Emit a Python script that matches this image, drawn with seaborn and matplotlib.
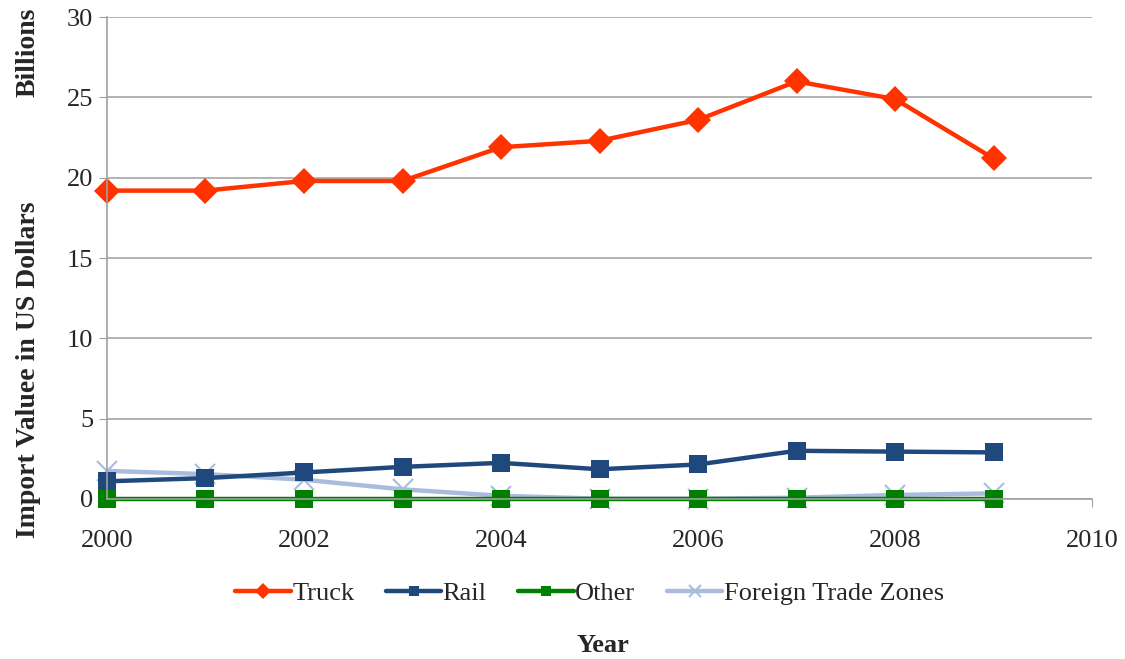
import numpy as np
import pandas as pd
import matplotlib
matplotlib.use("Agg")
import matplotlib.pyplot as plt
import seaborn as sns

years = [2000, 2001, 2002, 2003, 2004, 2005, 2006, 2007, 2008, 2009]
truck = [19.2, 19.2, 19.8, 19.8, 21.9, 22.3, 23.6, 26.0, 24.9, 21.2]
rail = [1.1, 1.3, 1.65, 2.0, 2.25, 1.85, 2.15, 3.0, 2.95, 2.9]
other = [0.0, 0.0, 0.0, 0.0, 0.0, 0.0, 0.0, 0.0, 0.0, 0.0]
ftz = [1.75, 1.55, 1.2, 0.6, 0.2, 0.02, 0.02, 0.08, 0.25, 0.35]

series_names = ["Truck", "Rail", "Other", "Foreign Trade Zones"]
series_values = [truck, rail, other, ftz]
colors = {"Truck": "#FF3300", "Rail": "#1F497D", "Other": "#008000",
          "Foreign Trade Zones": "#A9BCDD"}
markers = {"Truck": "D", "Rail": "s", "Other": "s", "Foreign Trade Zones": "x"}
msizes = {"Truck": 13, "Rail": 13, "Other": 13, "Foreign Trade Zones": 14}

df = pd.DataFrame({
    "Year": np.tile(years, len(series_names)),
    "Value": np.concatenate(series_values),
    "Series": np.repeat(series_names, len(years)),
})

sns.set_style("white")
plt.rcParams["font.family"] = ["Liberation Serif", "DejaVu Serif"]

fig = plt.figure(figsize=(11.25, 6.59), dpi=100)
ax = fig.add_axes([0.0951, 0.2428, 0.8756, 0.7312])

# Draw in reverse so Truck/Rail sit above the flat series
for name in series_names[::-1]:
    sub = df[df["Series"] == name]
    sns.lineplot(data=sub, x="Year", y="Value", color=colors[name],
                 marker=markers[name], markersize=msizes[name],
                 markeredgewidth=1.5 if markers[name] == "x" else 0,
                 markeredgecolor=colors[name],
                 linewidth=3.2, label=name, ax=ax, clip_on=False)

ax.set_xlim(2000, 2010)
ax.set_ylim(0, 30)
ax.set_xticks([2000, 2002, 2004, 2006, 2008, 2010])
ax.set_yticks([0, 5, 10, 15, 20, 25, 30])
ax.tick_params(axis="both", labelsize=19, length=6, color="#A0A0A0", direction="out",
               left=True, bottom=True)
ax.tick_params(axis="x", pad=16)
ax.tick_params(axis="y", pad=4)
ax.yaxis.grid(True, color="#A6A6A6", linewidth=1.2)
ax.xaxis.grid(False)
for side in ["top", "right"]:
    ax.spines[side].set_visible(False)
for side in ["left", "bottom"]:
    ax.spines[side].set_color("#A0A0A0")
    ax.spines[side].set_linewidth(1.2)

ax.set_xlabel("")
ax.set_ylabel("")

handles, labels = ax.get_legend_handles_labels()
order = [labels.index(n) for n in series_names]
handles = [handles[i] for i in order]
labels = [labels[i] for i in order]
ax.legend_.remove()
fig.legend(handles, labels, loc="center", bbox_to_anchor=(0.524, 0.1), ncol=4,
           frameon=False, fontsize=19, handlelength=2.1, handletextpad=0.05,
           columnspacing=1.2, markerscale=0.6)

fig.text(0.536, 0.021, "Year", ha="center", va="center", fontsize=19, fontweight="bold")
fig.text(0.025, 0.921, "Billions", ha="center", va="center", rotation=90,
         fontsize=20, fontweight="bold")
fig.text(0.025, 0.439, "Import Valuee in US Dollars", ha="center", va="center",
         rotation=90, fontsize=20, fontweight="bold")

fig.savefig("out.png", dpi=100)
